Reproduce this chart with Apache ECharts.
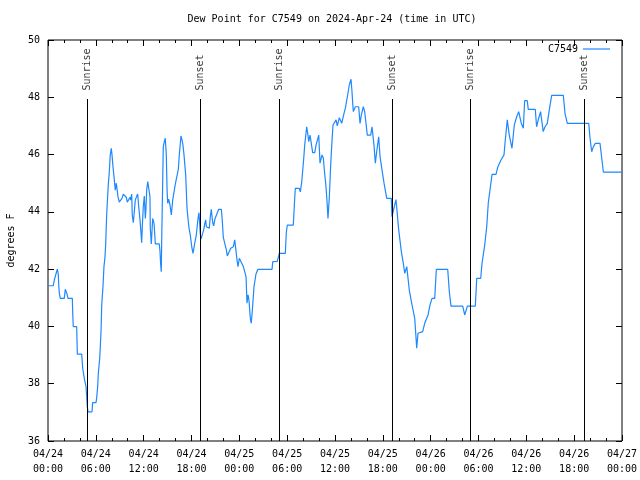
<!DOCTYPE html>
<html><head><meta charset="utf-8">
<script src="https://cdn.jsdelivr.net/npm/echarts@6/dist/echarts.min.js"></script>
<style>html,body{margin:0;padding:0;background:#fff}#c{width:640px;height:480px}</style>
</head><body><div id="c"></div>
<script>
// hours since 2024-04-24 00:00 UTC
const hoursFromStart = [
0.00,0.66,0.79,1.17,1.29,1.34,1.42,1.54,2.04,2.17,2.35,2.51,3.05,3.10,3.17,3.60,3.64,3.68,4.23,4.35,
4.55,4.68,4.77,4.85,4.93,5.02,5.52,5.60,6.02,6.10,6.23,6.31,6.49,6.65,6.74,6.90,7.02,7.15,7.24,7.36,
7.49,7.56,7.69,7.81,7.94,8.03,8.15,8.28,8.44,8.57,8.69,8.78,8.94,9.19,9.28,9.45,9.70,9.82,9.95,10.20,
10.29,10.37,10.50,10.57,10.70,10.79,10.95,11.13,11.25,11.38,11.54,11.67,11.75,11.83,11.95,12.08,12.21,12.29,12.38,12.51,
12.71,12.79,12.83,12.96,13.13,13.30,13.42,13.46,13.96,14.05,14.13,14.21,14.26,14.39,14.46,14.59,14.71,14.84,14.93,15.01,
15.14,15.30,15.47,15.64,15.81,15.97,16.18,16.35,16.47,16.68,16.81,16.93,17.06,17.27,17.44,17.56,17.69,17.85,18.03,18.19,
18.40,18.60,18.82,18.94,19.07,19.10,19.19,19.41,19.53,19.66,19.78,19.86,19.98,20.23,20.36,20.48,20.66,20.78,20.95,21.11,
21.41,21.74,21.83,21.99,22.24,22.37,22.49,22.74,22.92,23.25,23.42,23.50,23.71,23.83,24.00,24.25,24.50,24.67,24.84,24.96,
25.09,25.21,25.38,25.50,25.68,25.84,26.09,26.31,28.10,28.19,28.76,29.01,29.77,29.89,30.02,30.77,30.95,31.02,31.52,31.65,
31.83,32.08,32.20,32.45,32.58,32.70,32.87,32.99,33.20,33.46,33.62,33.96,34.12,34.37,34.54,34.66,34.87,35.00,35.12,35.29,
35.46,35.63,35.75,35.96,36.13,36.29,36.54,36.84,37.13,37.29,37.38,37.59,37.79,38.01,38.13,38.22,38.30,38.55,38.97,39.14,
39.30,39.55,39.72,39.89,40.05,40.48,40.64,40.89,41.06,41.23,41.48,41.65,41.90,42.15,42.49,43.06,43.15,43.44,43.65,43.99,
44.32,44.57,44.75,45.00,45.32,45.66,46.00,46.25,46.41,46.66,47.00,47.25,47.67,47.92,48.17,48.51,48.71,50.14,50.34,50.55,
52.02,52.27,52.60,53.60,53.78,54.28,54.44,54.78,55.03,55.23,55.70,56.20,56.41,56.82,57.20,57.36,57.61,57.86,58.20,58.49,
58.79,59.04,59.37,59.62,59.79,60.12,60.24,61.12,61.29,61.54,61.79,61.92,62.12,62.34,62.63,62.88,63.18,64.64,64.85,65.14,
67.83,67.99,68.20,68.40,68.65,69.24,69.46,69.66,71.97
];
const dewPointF = [
41.42,41.42,41.62,42.00,41.83,41.48,41.16,40.98,40.98,41.30,41.16,40.98,40.98,40.48,39.99,39.99,39.53,39.03,39.03,38.54,
38.19,38.01,37.90,37.55,37.20,37.02,37.02,37.34,37.34,37.49,37.90,38.36,38.89,39.82,40.75,41.41,42.09,42.43,42.90,43.89,
44.59,44.94,45.40,45.99,46.22,45.99,45.58,45.23,44.76,45.00,45.05,44.53,44.34,44.34,44.47,44.62,44.62,44.51,44.34,44.34,
44.51,44.41,44.62,43.89,43.62,43.89,44.41,44.55,44.62,44.18,43.72,43.25,42.92,43.48,44.18,44.55,43.77,44.12,44.76,45.06,
45.06,44.53,43.43,42.88,43.77,43.60,43.08,42.88,42.88,42.61,42.17,41.91,42.96,45.11,46.27,46.45,46.57,45.99,44.82,44.30,
44.44,44.24,43.89,44.41,44.70,44.97,44.97,45.49,45.99,46.65,46.51,46.33,45.99,45.29,44.12,43.77,43.43,43.19,42.78,42.55,
42.90,43.19,43.77,43.97,43.97,43.25,43.05,43.05,43.37,43.58,43.72,43.48,43.43,43.43,43.83,44.09,43.62,43.51,43.76,43.76,
44.09,44.09,43.83,43.11,43.11,42.67,42.46,42.46,42.73,42.78,43.02,42.84,42.32,42.09,42.38,42.38,42.09,42.09,41.74,40.81,
41.10,40.92,40.28,40.11,40.75,41.39,41.83,41.99,41.99,42.26,42.27,42.55,42.55,43.27,43.54,43.54,44.49,44.82,44.82,44.70,
45.05,45.87,46.33,46.97,46.74,46.45,46.68,46.45,46.07,46.07,46.33,46.68,45.70,45.99,45.87,45.46,44.88,44.36,43.77,44.53,
45.64,46.51,47.03,47.09,47.21,47.00,47.29,47.09,47.44,47.61,47.67,48.08,48.43,48.63,48.20,47.79,47.50,47.67,47.67,47.09,
47.38,47.67,47.50,47.09,46.68,46.68,46.97,46.33,45.70,46.10,46.62,45.93,45.46,45.00,44.47,44.47,43.83,44.18,44.43,43.37,
42.61,42.20,41.85,42.09,41.27,40.75,40.28,39.24,39.76,39.82,39.82,40.11,40.40,40.75,40.98,40.98,41.99,41.99,41.21,40.71,
40.71,40.40,40.71,40.71,41.68,41.68,42.20,42.84,43.48,44.32,45.31,45.31,45.56,45.81,45.99,46.51,47.21,46.68,46.22,47.03,
47.32,47.50,47.09,46.92,47.88,47.88,47.58,47.58,46.97,47.26,47.50,47.21,46.80,46.97,47.09,47.56,48.07,48.07,47.44,47.09,
47.09,46.57,46.10,46.27,46.39,46.39,45.87,45.39,45.39
];
const sunEventHours = [4.93, 19.13, 29.01, 43.19, 52.97, 67.28];
const sunEventLabels = ['Sunrise','Sunset','Sunrise','Sunset','Sunrise','Sunset'];
const yTicks = [36, 50, 2]; // min, max, step
const seriesName = 'C7549';
const titleText = 'Dew Point for C7549 on 2024-Apr-24 (time in UTC)';

const H = 3600000;
const start = Date.UTC(2024, 3, 24);
const FONT = 'DejaVu Sans Mono';
const pad = n => String(n).padStart(2, '0');
const fmtX = v => {
  const d = new Date(v);
  return pad(d.getUTCMonth() + 1) + '/' + pad(d.getUTCDate()) + '\n' + pad(d.getUTCHours()) + ':' + pad(d.getUTCMinutes());
};

const lineData = hoursFromStart.map((h, i) => [start + h * H, dewPointF[i]]);
const sunLines = sunEventHours.map(h => [{coord: [start + h * H, 36]}, {coord: [start + h * H, 47.94]}]);
const sunLabelData = sunEventHours.map(h => [start + h * H, 48.2]);

const chart = echarts.init(document.getElementById('c'), null, {renderer: 'canvas'});
const xCommon = {type: 'value', min: start, max: start + 72 * H, interval: 6 * H, splitLine: {show: false}, axisLine: {show: false},
  axisTick: {inside: true, length: 6, lineStyle: {color: '#000'}},
  minorTick: {show: true, splitNumber: 3, length: 3, lineStyle: {color: '#000'}}};
const yCommon = {type: 'value', min: yTicks[0], max: yTicks[1], interval: yTicks[2], splitLine: {show: false}, axisLine: {show: false},
  axisTick: {inside: true, length: 6, lineStyle: {color: '#000'}}};
chart.setOption({
  animation: false,
  backgroundColor: '#fff',
  grid: {left: 48, right: 18, top: 40, bottom: 39, outerBoundsMode: 'none', containLabel: false,
    show: true, borderColor: '#000', borderWidth: 1, backgroundColor: 'transparent'},
  graphic: [{type: 'text', x: 332, y: 19, style: {text: titleText, textAlign: 'center', textVerticalAlign: 'middle', font: '10px "DejaVu Sans Mono"', fill: '#000'}}],
  legend: {data: [{name: seriesName, icon: 'rect'}], top: 44, right: 30, padding: 0, align: 'right', itemWidth: 27, itemHeight: 1.2,
    textStyle: {fontFamily: FONT, fontSize: 10, color: '#000'}},
  xAxis: [
    Object.assign({}, xCommon, {position: 'bottom', axisLabel: {formatter: fmtX, fontFamily: FONT, fontSize: 10, color: '#000', lineHeight: 15, margin: 6}}),
    Object.assign({}, xCommon, {position: 'top', axisLabel: {show: false}})
  ],
  yAxis: [
    Object.assign({}, yCommon, {position: 'left', axisLabel: {fontFamily: FONT, fontSize: 10, color: '#000', margin: 8},
      name: 'degrees F', nameLocation: 'middle', nameGap: 32, nameTextStyle: {fontFamily: FONT, fontSize: 10, color: '#000'}}),
    Object.assign({}, yCommon, {position: 'right', axisLabel: {show: false}})
  ],
  series: [
    {name: seriesName, type: 'line', data: lineData, symbol: 'none', xAxisIndex: 0, yAxisIndex: 0,
      lineStyle: {color: '#1e88ff', width: 1.2}, itemStyle: {color: '#1e88ff'},
      markLine: {silent: true, symbol: ['none', 'none'], label: {show: false}, lineStyle: {color: '#000', width: 1, type: 'solid'}, data: sunLines}},
    {name: 'sun', type: 'scatter', data: sunLabelData, symbolSize: 0, xAxisIndex: 0, yAxisIndex: 0, silent: true,
      label: {show: true, position: 'inside', rotate: 90, align: 'left', verticalAlign: 'middle', offset: [1, 0],
        formatter: p => sunEventLabels[p.dataIndex], fontFamily: FONT, fontSize: 10, color: '#000'}}
  ]
});
</script></body></html>
